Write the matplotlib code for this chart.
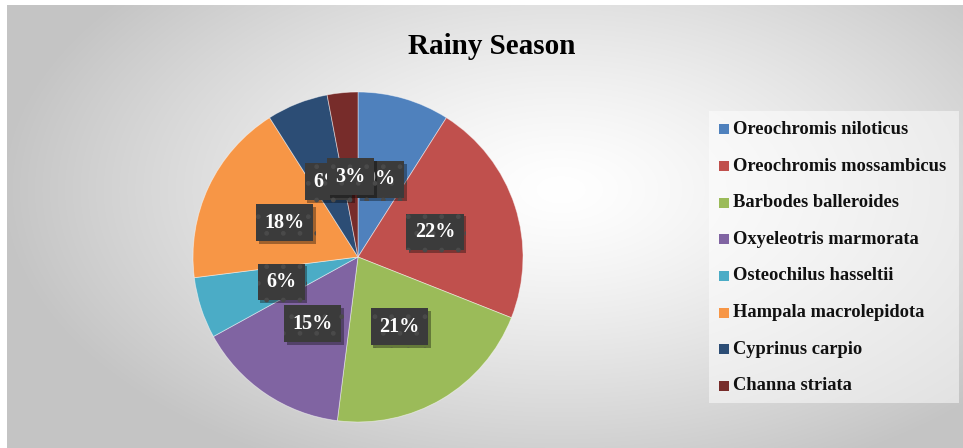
import numpy as np
import matplotlib
matplotlib.use("Agg")
import matplotlib.pyplot as plt
from matplotlib.patches import Rectangle
import matplotlib.patheffects as pe

# species share of the catch, rainy season
species = ["Oreochromis niloticus", "Oreochromis mossambicus", "Barbodes balleroides",
           "Oxyeleotris marmorata", "Osteochilus hasseltii", "Hampala macrolepidota",
           "Cyprinus carpio", "Channa striata"]
share = [9, 22, 21, 15, 6, 18, 6, 3]
colors = ["#4F81BD", "#C0504D", "#9BBB59", "#8064A2", "#4BACC6", "#F79646",
          "#2C4D75", "#772C2A"]

W, H = 963, 448
fig = plt.figure(figsize=(W / 100, H / 100), dpi=100)
fig.patch.set_facecolor("white")

# grey radial backdrop
bg = fig.add_axes([7 / W, 0, 1 - 7 / W, 443 / H], zorder=-10)
xx, yy = np.meshgrid(np.arange(7, W), np.arange(5, H))
d = np.sqrt(((xx - 560) / 560.0) ** 2 + ((yy - 190) / 310.0) ** 2)
shade = 1 - 0.23 * np.clip(d, 0, 1) ** 1.3
bg.imshow(np.dstack([shade] * 3), aspect="auto", extent=(0, 1, 0, 1), origin="upper")
bg.axis("off")

# pie
cx, cy, r = 358, 257, 165
ax = fig.add_axes([(cx - r) / W, (H - cy - r) / H, 2 * r / W, 2 * r / H])
wedges, _, autotexts = ax.pie(share, colors=colors, startangle=90, counterclock=False,
                              autopct="%1.0f%%", pctdistance=0.49,
                              wedgeprops=dict(edgecolor=(1, 1, 1, 0.5), linewidth=0.6))
ax.set_xlim(-1, 1)
ax.set_ylim(-1, 1)

for t in autotexts:
    t.set_color("white")
    t.set_fontfamily("Liberation Serif")
    t.set_fontweight("bold")
    t.set_fontsize(14.5)
    t.set_bbox(dict(boxstyle="square,pad=0.42", facecolor="#3b3b3b", edgecolor="#4a4a4a",
                    linewidth=0, hatch="."))
    t.get_bbox_patch().set_path_effects([
        pe.SimplePatchShadow(offset=(2, -2), shadow_rgbFace="black", alpha=0.35),
        pe.Normal()])

fig.text(492 / W, 1 - 46 / H, "Rainy Season", ha="center", va="center",
         fontfamily="Liberation Serif", fontweight="bold", fontsize=21)

# legend panel
fig.add_artist(Rectangle((709 / W, 1 - 403 / H), 250 / W, 292 / H,
                         transform=fig.transFigure, facecolor="white", alpha=0.5,
                         edgecolor="none"))
for i, (name, w) in enumerate(zip(species, wedges)):
    y = 129.5 + i * 36.6
    fig.add_artist(Rectangle((719 / W, 1 - (y + 5) / H), 10 / W, 10 / H,
                             transform=fig.transFigure, facecolor=w.get_facecolor(),
                             edgecolor="none"))
    fig.text(733 / W, 1 - y / H, name, ha="left", va="center",
             fontfamily="Liberation Serif", fontweight="bold", fontsize=13.3,
             color="#111111")

fig.savefig("out.png", dpi=100)
